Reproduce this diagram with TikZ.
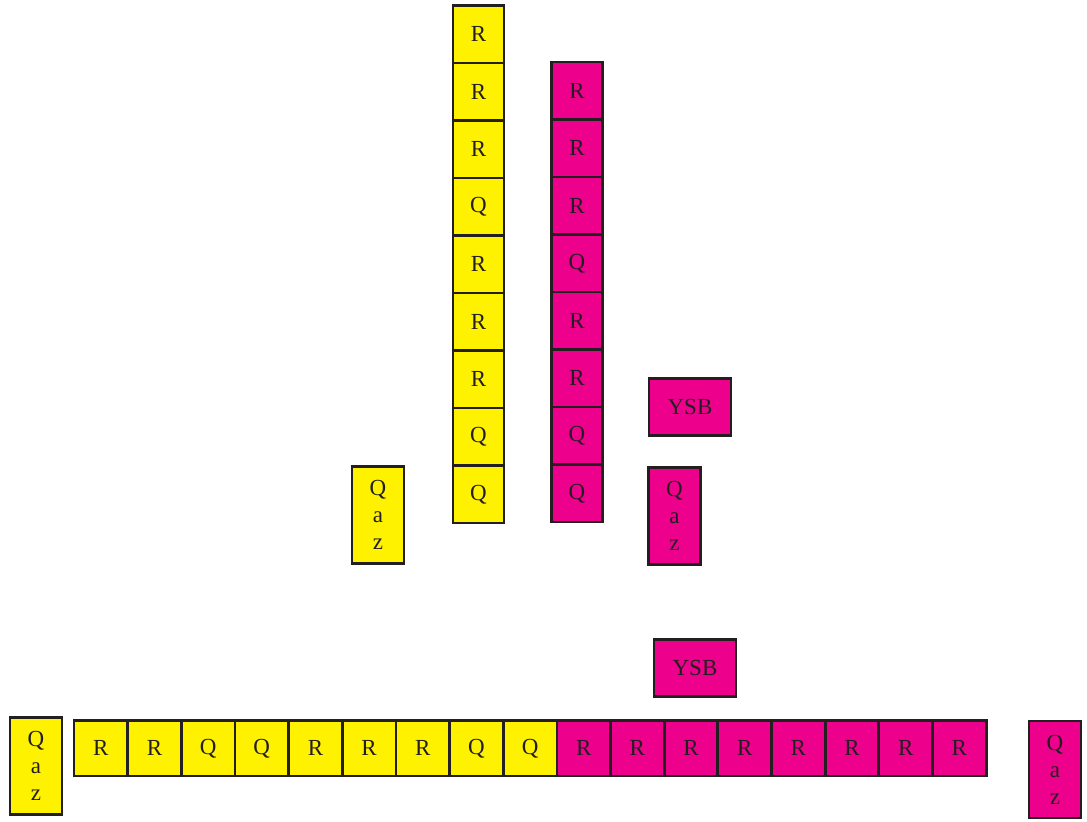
\documentclass[tikz,border=0pt]{standalone}
\usepackage{fontspec}
\setmainfont{Liberation Serif}
\usetikzlibrary{positioning}

\definecolor{ink}{HTML}{231F20}
\definecolor{amarillo}{HTML}{FFF200}
\definecolor{rosa}{HTML}{EC008C}

\begin{document}
\begin{tikzpicture}[
		x=0.5pt, y=-0.5pt,
		% Estilos de celdas
		celda/.style={draw=ink, line width=1.4pt, rectangle, inner sep=0pt, outer sep=0pt, text=ink, align=center, font=\fontsize{11.5}{13.5}\selectfont},
		vcelda/.style={celda, minimum width=25.5pt, minimum height=28.75pt},
		hcelda/.style={celda, minimum width=26.83pt, minimum height=27.65pt},
		alta/.style={celda, minimum width=26pt, minimum height=48.5pt},
		ancha/.style={celda, minimum width=41pt, minimum height=28.5pt},
		amar/.style={fill=amarillo},
		mag/.style={fill=rosa}
		]
		\useasboundingbox (0,0) rectangle (1087,821);
		
		% --- COLUMNAS VERTICALES ---
		\node[vcelda, amar] (ya1) at (478.5,34.25) {R};
		\foreach \l [count=\i from 2, remember=\i as \j (initially 1)] in {R,R,Q,R,R,R,Q,Q}
			\node[vcelda, amar, below=0pt of ya\j] (ya\i) {\l};
		
		\node[vcelda, mag] (ma1) at (577,90.75) {R};
		\foreach \l [count=\i from 2, remember=\i as \j (initially 1)] in {R,R,Q,R,R,Q,Q}
			\node[vcelda, mag, below=0pt of ma\j] (ma\i) {\l};
		
		% Cajas sueltas de arriba
		\node[alta, amar] (qazA) at (378,515) {Q\\a\\z};
		\node[ancha, mag] (ysbA) at (690,407) {YSB};
		\node[alta, mag] (qazB) at (674.5,516) {Q\\a\\z};
		
		% --- FILA HORIZONTAL ---
		\node[hcelda, amar] (yb1) at (100.8,748.3) {R};
		\foreach \l [count=\i from 2, remember=\i as \j (initially 1)] in {R,Q,Q,R,R,R,Q,Q}
			\node[hcelda, amar, right=0pt of yb\j] (yb\i) {\l};
		
		\node[hcelda, mag, right=0pt of yb9] (mb1) {R};
		\foreach \l [count=\i from 2, remember=\i as \j (initially 1)] in {R,R,R,R,R,R,R}
			\node[hcelda, mag, right=0pt of mb\j] (mb\i) {\l};
		
		% Cajas sueltas de abajo
		\node[alta, amar] (qazC) at (36,766) {Q\\a\\z};
		\node[ancha, mag] (ysbB) at (695,668) {YSB};
		\node[alta, mag] (qazD) at (1055,769.5) {Q\\a\\z};
		
	\end{tikzpicture}
\end{document}
